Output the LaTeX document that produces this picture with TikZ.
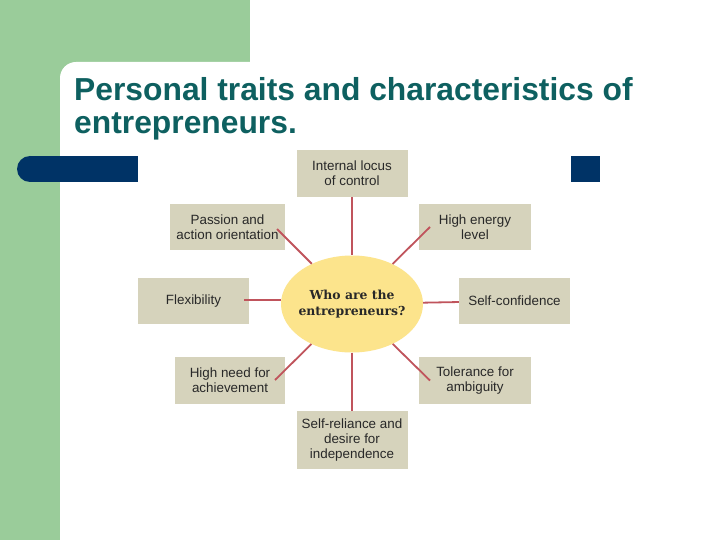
\documentclass[tikz,border=0pt]{standalone}
\usepackage{fontspec}
\setmainfont{Liberation Sans}
\newfontfamily\whofont{DejaVu Serif}
\usetikzlibrary{shapes.geometric}
\definecolor{bggreen}{RGB}{154,204,154}
\definecolor{titleteal}{RGB}{14,96,96}
\definecolor{navybar}{RGB}{0,51,102}
\definecolor{boxtan}{RGB}{214,211,188}
\definecolor{linkred}{RGB}{192,84,92}
\definecolor{ellyellow}{RGB}{252,228,140}
\definecolor{boxtext}{RGB}{40,40,40}
\begin{document}
\begin{tikzpicture}[x=1pt,y=-1pt,
  trait/.style={fill=boxtan, minimum width=111pt, minimum height=46pt, align=center,
    inner sep=2pt, text=boxtext, font=\fontsize{13.4}{15}\selectfont},
  link/.style={draw=linkred, line width=1.8pt},
  titletext/.style={anchor=base west, text=titleteal, inner sep=0pt,
    font=\fontsize{31.8}{36}\selectfont\bfseries}]
\useasboundingbox (0,0) rectangle (720,540);
% background
\fill[bggreen] (0,0) rectangle (250,540);
\fill[white, rounded corners=16pt] (60,62) rectangle (760,580);
% title
\node[titletext] (t1) at (74,101) {Personal traits and characteristics of};
\node[titletext] (t2) at (74,134) {entrepreneurs.};
% bars
\fill[navybar] (30,169) circle (13pt);
\fill[navybar] (30,156) rectangle (138,182);
\fill[navybar] (571,156) rectangle (600,182);
% nodes
\node[ellipse, fill=ellyellow, minimum width=142pt, minimum height=97pt, inner sep=0pt]
  (who) at (352,304) {};
\node[align=center, inner sep=0pt, text=boxtext,
  font=\whofont\fontsize{12.4}{16}\selectfont\bfseries]
  (whotext) at (who.center) {Who are the\\entrepreneurs?};
\node[trait, minimum height=47pt] (loc) at (352,173.5) {Internal locus\\of control};
\node[trait, minimum width=115pt] (pass) at (227.5,227) {Passion and\\action orientation};
\node[trait, minimum width=112pt] (energy) at (475,227) {High energy\\level};
\node[trait] (flex) at (193.5,301) {Flexibility};
\node[trait] (conf) at (514.5,301) {Self-confidence};
\node[trait, minimum width=110pt, minimum height=47pt] (need) at (230,380.5) {High need for\\achievement};
\node[trait, minimum width=112pt, minimum height=47pt] (tol) at (475,380.5) {Tolerance for\\ambiguity};
\node[trait, minimum height=58pt, text depth=3pt] (rel) at (352,440) {Self-reliance and\\desire for\\independence};
% line start points inside boxes
\coordinate (ps) at (277,229);
\coordinate (es) at (430,227);
\coordinate (fs) at (244,300);
\coordinate (ns) at (275,380);
\coordinate (ts) at (430,380.5);
% connectors
\draw[link] (loc) -- (who);
\draw[link] (who) -- (rel);
\draw[link] (ps) -- (who);
\draw[link] (es) -- (who);
\draw[link] (fs) -- (who.west |- fs);
\draw[link] (who) -- (conf);
\draw[link] (ns) -- (who);
\draw[link] (ts) -- (who);
\end{tikzpicture}
\end{document}
